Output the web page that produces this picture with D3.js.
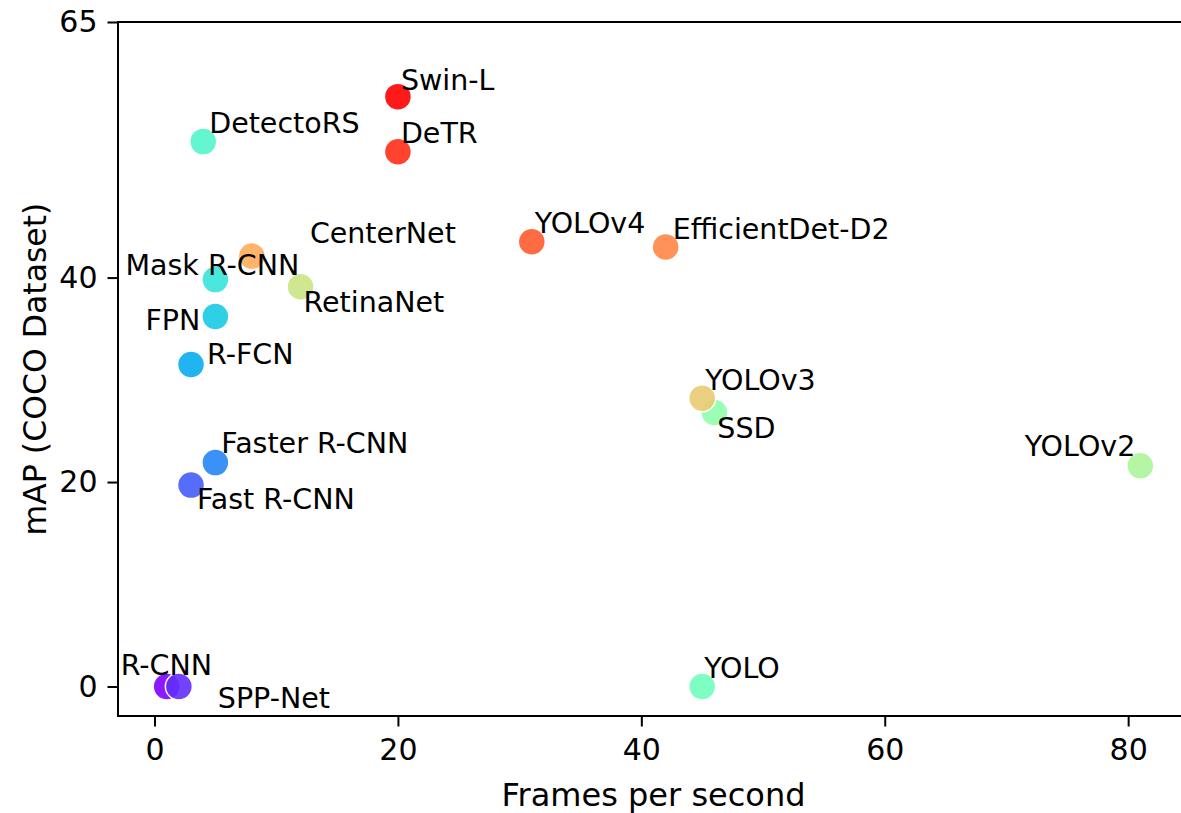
<!DOCTYPE html>
<html>
<head>
<meta charset="utf-8">
<script src="https://cdn.jsdelivr.net/npm/d3@7"></script>
<style>
  body { margin: 0; background: #fff; }
  svg { display: block; }
  text { font-family: 'DejaVu Sans', sans-serif; fill: #000; }
</style>
</head>
<body>
<script>
// models in plotting order (also sets the colour along the rainbow map)
const models = ['R-CNN', 'SPP-Net', 'Fast R-CNN', 'Faster R-CNN', 'R-FCN', 'FPN', 'Mask R-CNN',
  'DetectoRS', 'YOLO', 'SSD', 'YOLOv2', 'RetinaNet', 'YOLOv3', 'CenterNet', 'EfficientDet-D2',
  'YOLOv4', 'DeTR', 'Swin-L']
const fps = [1, 2, 3, 5, 3, 5, 5, 4, 45, 46, 81, 12, 45, 8, 42, 31, 20, 20]
const mAP = [0, 0, 19.7, 21.9, 31.5, 36.2, 39.8, 53.3, 0, 26.8, 21.6, 39.1, 28.2, 42.1, 43, 43.5, 52.3, 57.7]

const xTicks = [0, 20, 40, 60, 80]
const yTicks = [0, 20, 40, 65]

// where each label sits relative to its marker: [dx, dy, anchor]
const labelPlacement = {
  'R-CNN': [-46, -12, 'start'],
  'SPP-Net': [39, 21, 'start'],
  'Fast R-CNN': [6, 24, 'start'],
  'Faster R-CNN': [6, -10, 'start'],
  'R-FCN': [16, 0, 'start'],
  'FPN': [-15, 14, 'end'],
  'Mask R-CNN': [84, -5, 'end'],
  'DetectoRS': [6, -9, 'start'],
  'YOLO': [2, -9, 'start'],
  'SSD': [3, 25, 'start'],
  'YOLOv2': [-5, -10, 'end'],
  'RetinaNet': [3, 25, 'start'],
  'YOLOv3': [3, -8, 'start'],
  'CenterNet': [58, -13, 'start'],
  'EfficientDet-D2': [7, -8, 'start'],
  'YOLOv4': [3, -9, 'start'],
  'DeTR': [3, -9, 'start'],
  'Swin-L': [3, -7, 'start'],
}

const width = 1181
const height = 813
const margin = { top: 22, left: 118, bottom: 716, right: 1189 }

const data = models.map((name, i) => ({ name, fps: fps[i], mAP: mAP[i], i }))

// matplotlib "rainbow"
const rainbow = t => d3.rgb(
  255 * Math.min(1, Math.abs(2 * t - 0.5)),
  255 * Math.sin(Math.PI * t),
  255 * Math.cos(Math.PI * t / 2),
)

const x = d3.scaleLinear()
  .domain([-3, 85])
  .range([margin.left, margin.right])

const y = d3.scaleLinear()
  .domain([-2.885, 65])
  .range([margin.bottom, margin.top])

const svg = d3.select('body').append('svg')
  .attr('xmlns', 'http://www.w3.org/2000/svg')
  .attr('width', width)
  .attr('height', height)

svg.append('rect')
  .attr('width', width)
  .attr('height', height)
  .attr('fill', '#fff')

// Points
svg.append('g')
  .selectAll('circle')
  .data(data)
  .join('circle')
  .attr('cx', d => x(d.fps))
  .attr('cy', d => y(d.mAP))
  .attr('r', 13.5)
  .attr('fill', d => rainbow(d.i / (models.length - 1)))
  .attr('fill-opacity', 0.9)
  .attr('stroke', '#fff')
  .attr('stroke-width', 1.5)

// Labels
svg.append('g')
  .selectAll('text')
  .data(data)
  .join('text')
  .attr('x', d => x(d.fps) + labelPlacement[d.name][0])
  .attr('y', d => y(d.mAP) + labelPlacement[d.name][1])
  .attr('text-anchor', d => labelPlacement[d.name][2])
  .style('font-size', '28.5px')
  .text(d => d.name)

// Axes
const xAxis = g => g
  .attr('transform', `translate(0,${margin.bottom})`)
  .call(d3.axisBottom(x).tickValues(xTicks).tickSize(10.5).tickPadding(12))
  .call(g => g.select('.domain').remove())
  .call(g => g.selectAll('line').attr('stroke-width', 2))
  .call(g => g.selectAll('text').style('font-size', '30px').attr('font-family', null))

const yAxis = g => g
  .attr('transform', `translate(${margin.left},0)`)
  .call(d3.axisLeft(y).tickValues(yTicks).tickSize(10.5).tickPadding(10))
  .call(g => g.select('.domain').remove())
  .call(g => g.selectAll('line').attr('stroke-width', 2))
  .call(g => g.selectAll('text').style('font-size', '30px').attr('font-family', null))

svg.append('g').call(xAxis)
svg.append('g').call(yAxis)

// Frame
svg.append('rect')
  .attr('x', margin.left)
  .attr('y', margin.top)
  .attr('width', margin.right - margin.left)
  .attr('height', margin.bottom - margin.top)
  .attr('fill', 'none')
  .attr('stroke', '#000')
  .attr('stroke-width', 2)

svg.append('text')
  .attr('x', (margin.left + margin.right) / 2)
  .attr('y', 806)
  .attr('text-anchor', 'middle')
  .style('font-size', '32px')
  .text('Frames per second')

svg.append('text')
  .attr('transform', `translate(46,${(margin.top + margin.bottom) / 2}) rotate(-90)`)
  .attr('text-anchor', 'middle')
  .style('font-size', '31.5px')
  .text('mAP (COCO Dataset)')
</script>
</body>
</html>
